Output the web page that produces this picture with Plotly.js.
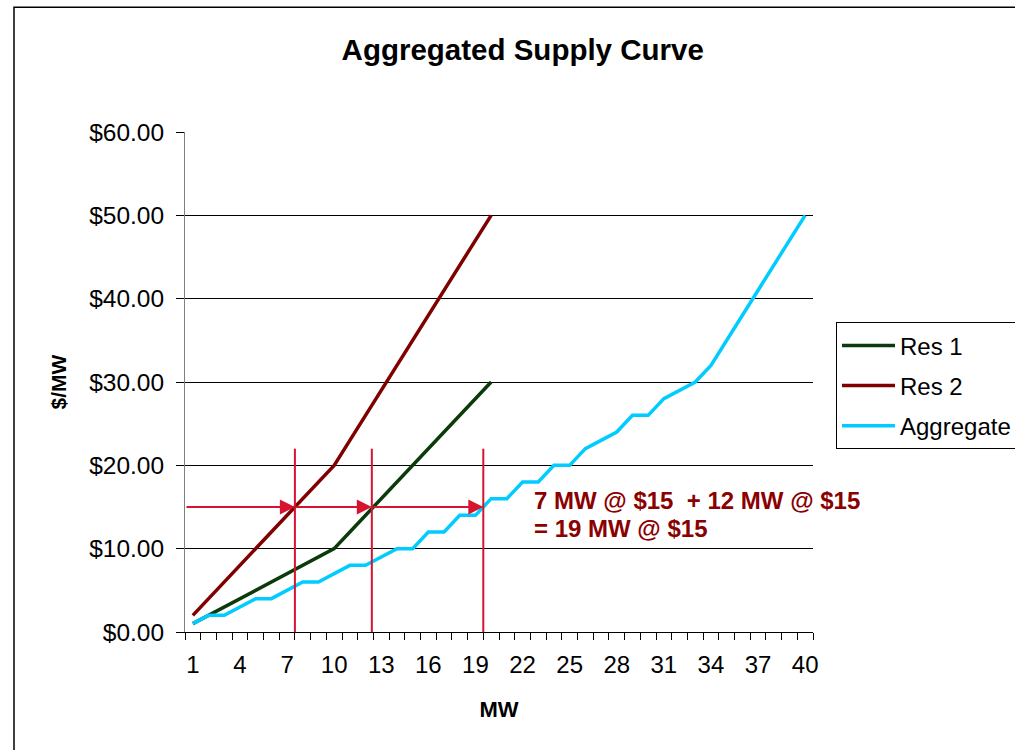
<!DOCTYPE html>
<html>
<head>
<meta charset="utf-8">
<script src="https://cdn.plot.ly/plotly-3.0.1.min.js"></script>
<style>
html,body{margin:0;padding:0;background:#fff;}
#chart{width:1015px;height:750px;}
</style>
</head>
<body>
<div id="chart"></div>
<script>
// ---- data ----
const mwRes = [1,2,3,4,5,6,7,8,9,10,11,12,13,14,15,16,17,18,19,20];
const mwAgg = [1,2,3,4,5,6,7,8,9,10,11,12,13,14,15,16,17,18,19,20,
               21,22,23,24,25,26,27,28,29,30,31,32,33,34,35,36,37,38,39,40];
const res1 = [1,2,3,4,5,6,7,8,9,10,12,14,16,18,20,22,24,26,28,30];
const res2 = [2,4,6,8,10,12,14,16,18,20,23,26,29,32,35,38,41,44,47,50];
const aggregate = [1,2,2,3,4,4,5,6,6,7,8,8,9,10,10,12,12,14,14,16,
                   16,18,18,20,20,22,23,24,26,26,28,29,30,32,35,38,41,44,47,50];
const xTickLabels = ['1','4','7','10','13','16','19','22','25','28','31','34','37','40'];
const seriesNames = ['Res 1','Res 2','Aggregate'];
const price = 15;              // $15 marker level
const markerMW = [7.5, 12.4, 19.5]; // where $15 is reached: Res 2, Res 1, Aggregate
const noteLines = ['7 MW @ $15  + 12 MW @ $15', '= 19 MW @ $15'];

const FONT = 'Arial, "Liberation Sans", sans-serif';
const RED = '#D7142F';

const traces = [
  {x: mwRes, y: res1, name: seriesNames[0], legendgroup:'a', mode:'lines',
   line:{color:'#0B3B0B', width:3.5}},
  {x: mwRes, y: res2, name: seriesNames[1], legendgroup:'b', mode:'lines',
   line:{color:'#800000', width:3.5}},
  {x: mwAgg, y: aggregate, name: seriesNames[2], legendgroup:'c', mode:'lines',
   line:{color:'#00CCFF', width:3.5}}
];

const shapes = markerMW.map(v => ({
  type:'line', xref:'x', yref:'y', x0:v, x1:v, y0:0, y1:22,
  line:{color:RED, width:2}
}));
// outer chart border
shapes.push({type:'rect', xref:'paper', yref:'paper',
  x0:-0.2723, x1:1.4, y0:-0.3, y1:1.2494, line:{color:'#000', width:1.5}, layer:'below'});

const arrowTails = [0.5, markerMW[0], markerMW[1]];
const annotations = markerMW.map((v,i) => ({
  x:v, y:price, xref:'x', yref:'y', ax:arrowTails[i], ay:price, axref:'x', ayref:'y',
  text:'', showarrow:true, arrowhead:2, arrowsize:1.5, arrowwidth:2, arrowcolor:RED, standoff:0
}));
const noteY = [15.8, 12.45];
noteLines.forEach((t,i) => annotations.push({
  x:22.6, y:noteY[i], xref:'x', yref:'y', xanchor:'left', yanchor:'middle', align:'left',
  text: t, showarrow:false,
  font:{family:FONT, size:24, color:'#8B0000', weight:'bold'}
}));

const layout = {
  width:1015, height:750,
  paper_bgcolor:'#fff', plot_bgcolor:'#fff',
  margin:{l:185, r:202, t:131.7, b:118.3, autoexpand:false},
  font:{family:FONT, color:'#000', size:24},
  title:{text:'<b>Aggregated Supply Curve</b>', xref:'container', yref:'container',
         x:0.515, y:1-50/750, xanchor:'center', yanchor:'middle',
         font:{family:FONT, size:29.5, color:'#000'}},
  xaxis:{range:[0.5,40.5], tickmode:'array',
         tickvals: xTickLabels.map(Number), ticktext: xTickLabels,
         ticks:'', showgrid:false, zeroline:false,
         showline:true, linecolor:'#000', linewidth:1,
         ticklabelstandoff:11,
         tickfont:{family:FONT, size:24, color:'#000'},
         minor:{tickmode:'linear', tick0:0.5, dtick:1, ticks:'outside', ticklen:7,
                tickcolor:'#000', tickwidth:1, showgrid:false},
         title:{text:'<b>MW</b>', standoff:24, font:{family:FONT, size:22, color:'#000'}}},
  yaxis:{range:[0,60], dtick:10, tickformat:'$.2f',
         ticks:'outside', ticklen:8, tickcolor:'#000', tickwidth:1,
         ticklabelstandoff:7,
         showgrid:true, gridcolor:'#000', gridwidth:1,
         zeroline:false, showline:true, linecolor:'#808080', linewidth:1,
         tickfont:{family:FONT, size:24.5, color:'#000'},
         title:{text:'<b>$/MW</b>', standoff:16, font:{family:FONT, size:21, color:'#000'}}},
  showlegend:true,
  legend:{x:1.0366, y:0.6194, xref:'paper', yref:'paper', xanchor:'left', yanchor:'top',
          bgcolor:'#fff', bordercolor:'#000', borderwidth:1, itemwidth:53,
          font:{family:FONT, size:24, color:'#000'}, tracegroupgap:6, traceorder:'grouped'},
  shapes: shapes,
  annotations: annotations
};

Plotly.newPlot('chart', traces, layout, {staticPlot:true, displayModeBar:false});
</script>
</body>
</html>
